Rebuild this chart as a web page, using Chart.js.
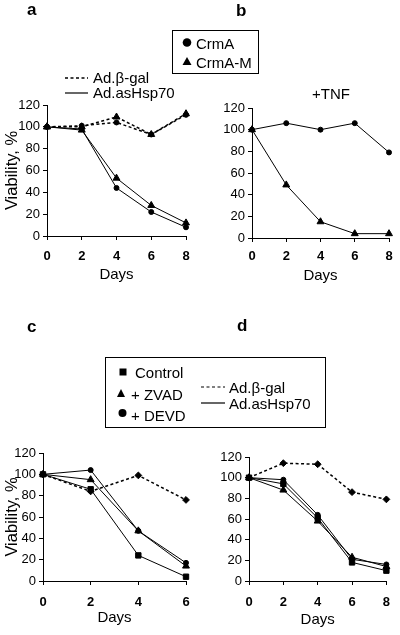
<!DOCTYPE html>
<html><head><meta charset="utf-8">
<script src="https://cdn.jsdelivr.net/npm/chart.js@4.4.0/dist/chart.umd.min.js"></script>
<style>
html,body{margin:0;padding:0;background:#fff;}
body{width:400px;height:635px;position:relative;overflow:hidden;font-family:'Liberation Sans',Arial,sans-serif;color:#000;}
canvas{position:absolute;}
.t{position:absolute;white-space:nowrap;line-height:1;transform:translateY(-50%);}
.lbl{font-weight:bold;font-size:17px;}
svg{position:absolute;overflow:visible;}
.box{position:absolute;border:1px solid #000;box-sizing:border-box;}
</style></head><body>
<canvas id="ca" width="200" height="317" style="left:0;top:0;width:200px;height:317px"></canvas>
<canvas id="cb" width="200" height="317" style="left:200px;top:0;width:200px;height:317px"></canvas>
<canvas id="cc" width="200" height="318" style="left:0;top:317px;width:200px;height:318px"></canvas>
<canvas id="cd" width="200" height="318" style="left:200px;top:317px;width:200px;height:318px"></canvas>

<div class="t lbl" style="left:27px;top:9px">a</div>
<div class="t lbl" style="left:236px;top:10px">b</div>
<div class="t lbl" style="left:27px;top:326px">c</div>
<div class="t lbl" style="left:237px;top:325px">d</div>

<div class="t" style="left:312px;top:93px;font-size:15px">+TNF</div>

<!-- legend a/b -->
<div class="box" style="left:172px;top:30px;width:87px;height:44px"></div>
<svg style="left:0;top:0" width="400" height="635">
  <circle cx="187" cy="42.5" r="4.3" fill="#000"/>
  <polygon points="187,57 191.5,65 182.5,65" fill="#000"/>
  <line x1="65" y1="78" x2="88" y2="78" stroke="#000" stroke-width="1.3" stroke-dasharray="3,2.5"/>
  <line x1="65" y1="93" x2="88" y2="93" stroke="#000" stroke-width="1.2"/>
  <rect x="119.5" y="368.5" width="7" height="7" fill="#000"/>
  <polygon points="121,389 125,397 117,397" fill="#000"/>
  <circle cx="122.5" cy="413" r="4" fill="#000"/>
  <line x1="201" y1="387" x2="225" y2="387" stroke="#000" stroke-width="1.2" stroke-dasharray="3,2.5"/>
  <line x1="201" y1="403" x2="225" y2="403" stroke="#000" stroke-width="1.2"/>
</svg>
<div class="t" style="left:196px;top:43px;font-size:15px">CrmA</div>
<div class="t" style="left:196px;top:62px;font-size:15px">CrmA-M</div>
<div class="t" style="left:93px;top:77px;font-size:15px">Ad.β-gal</div>
<div class="t" style="left:93px;top:92px;font-size:15px">Ad.asHsp70</div>

<!-- legend c/d -->
<div class="box" style="left:105px;top:357px;width:221px;height:71px"></div>
<div class="t" style="left:135px;top:372px;font-size:15px">Control</div>
<div class="t" style="left:131px;top:394px;font-size:15px">+ ZVAD</div>
<div class="t" style="left:131px;top:415px;font-size:15px">+ DEVD</div>
<div class="t" style="left:229px;top:387px;font-size:15px">Ad.β-gal</div>
<div class="t" style="left:229px;top:403px;font-size:15px">Ad.asHsp70</div>

<script>
// ---- data ----
const daysAB = [0, 2, 4, 6, 8];
const daysC = [0, 2, 4, 6];
const daysD = [0, 2, 4, 6, 8];
const yTickLabels = [0, 20, 40, 60, 80, 100, 120];
const xTicks8 = [0, 2, 4, 6, 8];
const xTicks6 = [0, 2, 4, 6];

// panel a
const aGalCrmA  = [100, 101, 104, 93, 111];
const aGalCrmAM = [100, 100, 109, 93, 112];
const aHspCrmA  = [100, 98, 44, 22, 8];
const aHspCrmAM = [100, 97, 53, 28, 12];
// panel b (+TNF)
const bCrmA  = [100, 106, 100, 106, 79];
const bCrmAM = [100, 49, 15, 4, 4];
// panel c
const cGal     = [100, 84, 99, 76];
const cControl = [100, 86, 24, 4];
const cZVAD    = [100, 95, 47, 14];
const cDEVD    = [100, 104, 47, 17];
// panel d
const dGal     = [100, 114, 113, 86, 79];
const dControl = [100, 94, 61, 18, 10];
const dZVAD    = [100, 88, 58, 23, 14];
const dDEVD    = [100, 98, 64, 21, 16];

const FONT = "'Liberation Sans', Arial, sans-serif";
const MK = {
  circle: {pointStyle: 'circle', pointRadius: 2.5},
  triangle: {pointStyle: 'triangle', pointRadius: 4},
  square: {pointStyle: 'rect', pointRadius: 3.8},
  diamond: {pointStyle: 'rectRot', pointRadius: 3.4}
};

function ds(xs, ys, marker, dashed) {
  return Object.assign({
    data: xs.map((x, i) => ({x: x, y: ys[i]})),
    borderColor: '#000', backgroundColor: '#000',
    pointBackgroundColor: '#000', pointBorderColor: '#000', pointBorderWidth: 1,
    borderWidth: dashed ? 1.5 : 1,
    borderDash: dashed ? [3, 2.5] : [],
    tension: 0, fill: false, clip: false
  }, MK[marker]);
}

function makeChart(id, c) {
  const gridOpts = {display: true, drawOnChartArea: false, drawTicks: true, tickLength: 4, color: '#000', lineWidth: 1};
  const borderOpts = {display: true, color: '#000', width: 1};
  return new Chart(document.getElementById(id), {
    type: 'line',
    data: {datasets: c.datasets},
    options: {
      responsive: false, animation: false, events: [],
      layout: {padding: c.pad},
      plugins: {legend: {display: false}, tooltip: {enabled: false}},
      scales: {
        x: {
          type: 'linear', min: 0, max: c.xmax,
          afterBuildTicks: s => { s.ticks = c.xticks.map(v => ({value: v})); },
          grid: gridOpts, border: borderOpts,
          ticks: {color: '#000', font: {family: FONT, size: 13, weight: 'bold'}, padding: c.xpad, maxRotation: 0, autoSkip: false},
          title: {display: true, text: 'Days', color: '#000', font: {family: FONT, size: 15}, padding: {top: 0, bottom: 0}},
          afterFit: s => { s.height = c.xh; }
        },
        y: {
          type: 'linear', min: 0, max: 120,
          afterBuildTicks: s => { s.ticks = yTickLabels.map(v => ({value: v})); },
          grid: gridOpts, border: borderOpts,
          ticks: {color: '#000', font: {family: FONT, size: 13}, padding: 3, autoSkip: false},
          title: c.ytitle ? {display: true, text: 'Viability, %', color: '#000', font: {family: FONT, size: 16.5}, padding: {top: 3, bottom: 0}} : {display: false},
          afterFit: s => { s.width = c.yw; }
        }
      }
    }
  });
}

makeChart('ca', {
  pad: {left: 0, right: 14, top: 105, bottom: 33}, yw: 47, xh: 48, xpad: 9, xmax: 8, xticks: xTicks8, ytitle: true,
  datasets: [
    ds(daysAB, aGalCrmA, 'circle', true),
    ds(daysAB, aGalCrmAM, 'triangle', true),
    ds(daysAB, aHspCrmA, 'circle', false),
    ds(daysAB, aHspCrmAM, 'triangle', false)
  ]
});
makeChart('cb', {
  pad: {left: 0, right: 11, top: 108, bottom: 32}, yw: 52, xh: 47, xpad: 7, xmax: 8, xticks: xTicks8, ytitle: false,
  datasets: [
    ds(daysAB, bCrmA, 'circle', false),
    ds(daysAB, bCrmAM, 'triangle', false)
  ]
});
makeChart('cc', {
  pad: {left: 0, right: 14, top: 136, bottom: 8}, yw: 43, xh: 46, xpad: 10, xmax: 6, xticks: xTicks6, ytitle: true,
  datasets: [
    ds(daysC, cGal, 'diamond', true),
    ds(daysC, cControl, 'square', false),
    ds(daysC, cZVAD, 'triangle', false),
    ds(daysC, cDEVD, 'circle', false)
  ]
});
makeChart('cd', {
  pad: {left: 0, right: 8, top: 140, bottom: 6}, yw: 49, xh: 48, xpad: 10, xmax: 8, xticks: xTicks8, ytitle: false,
  datasets: [
    ds(daysD, dGal, 'diamond', true),
    ds(daysD, dControl, 'square', false),
    ds(daysD, dZVAD, 'triangle', false),
    ds(daysD, dDEVD, 'circle', false)
  ]
});
</script>
</body></html>
